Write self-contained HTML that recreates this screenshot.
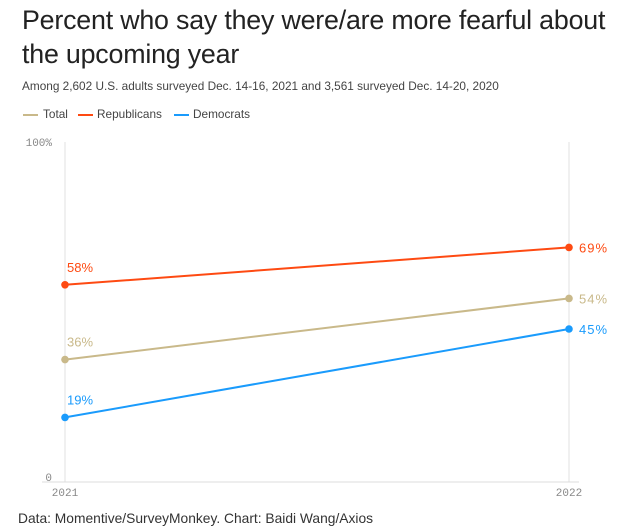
<!DOCTYPE html>
<html><head><meta charset="utf-8">
<style>
body{margin:0;background:#fff;width:639px;height:528px;overflow:hidden;font-family:"Liberation Sans",sans-serif;position:relative}
.t{position:absolute;left:22px;top:3px;font-size:26.8px;line-height:34px;color:#222;letter-spacing:-0.2px;white-space:nowrap}
.sub{position:absolute;left:22px;top:79px;font-size:11.8px;color:#444;white-space:nowrap}
.leg{position:absolute;top:107px;font-size:11.8px;color:#444}
.sw{position:absolute;top:114px;width:15px;height:2px}
.src{position:absolute;left:18px;top:511px;font-size:13.8px;color:#333;white-space:nowrap}
</style></head><body>
<div class="t">Percent who say they were/are more fearful about<br>the upcoming year</div>
<div class="sub">Among 2,602 U.S. adults surveyed Dec. 14-16, 2021 and 3,561 surveyed Dec. 14-20, 2020</div>
<div class="sw" style="left:23px;background:#c9b98a"></div>
<div class="leg" style="left:43px">Total</div>
<div class="sw" style="left:78px;background:#fe4a12"></div>
<div class="leg" style="left:97px">Republicans</div>
<div class="sw" style="left:174px;background:#1a9bfc"></div>
<div class="leg" style="left:193px">Democrats</div>
<svg id="chart" width="639" height="528" style="position:absolute;left:0;top:0"></svg>
<div class="src">Data: Momentive/SurveyMonkey. Chart: Baidi Wang/Axios</div>
<script>
const years = ["2021","2022"];
const total = [36,54];
const republicans = [58,69];
const democrats = [19,45];
const seriesNames = ["total","republicans","democrats"];
const colors = {total:"#c9b98a",republicans:"#fe4a12",democrats:"#1a9bfc"};
const data = {total,republicans,democrats};
const svg = document.getElementById('chart');
const NS = "http://www.w3.org/2000/svg";
const x = i => 65 + i*(569-65)/(years.length-1);
const y = v => 482 - v*3.4;
function mk(tag, attrs, text){const e=document.createElementNS(NS,tag);for(const k in attrs)e.setAttribute(k,attrs[k]);if(text!==undefined)e.textContent=text;svg.appendChild(e);return e;}
let e;
years.forEach((yr,i)=>{
  e=mk('line',{x1:x(i),x2:x(i),y1:y(100),y2:y(0),stroke:'#e6e6e6','stroke-width':1.2});
  
  
  e=mk('text',{x:x(i),y:496,'text-anchor':'middle','font-family':'Liberation Mono, monospace','font-size':11,fill:'#888'},yr);
  
  
});
e=mk('line',{x1:42,x2:579,y1:y(0),y2:y(0),stroke:'#ddd','stroke-width':1});


e=mk('text',{x:52,y:y(100)+4,'text-anchor':'end','font-family':'Liberation Mono, monospace','font-size':11,fill:'#888'},'100%');


e=mk('text',{x:52,y:y(0)-1,'text-anchor':'end','font-family':'Liberation Mono, monospace','font-size':11,fill:'#888'},'0');


seriesNames.forEach(s=>{
  const v=data[s],c=colors[s];
  e=mk('polyline',{points:v.map((d,i)=>x(i)+','+y(d)).join(' '),fill:'none',stroke:c,'stroke-width':2});
  
  
  v.forEach((d,i)=>{
    e=mk('circle',{cx:x(i),cy:y(d),r:3.8,fill:c});
    
    
    const lx=i===0?x(i)+2:x(i)+10, ly=i===0?y(d)-13:y(d)+5;
    e=mk('text',{x:lx,y:ly,'font-size':13,fill:c,'letter-spacing':i===0?0:1},d+'%');
    
    
  });
});
</script>
</body></html>
